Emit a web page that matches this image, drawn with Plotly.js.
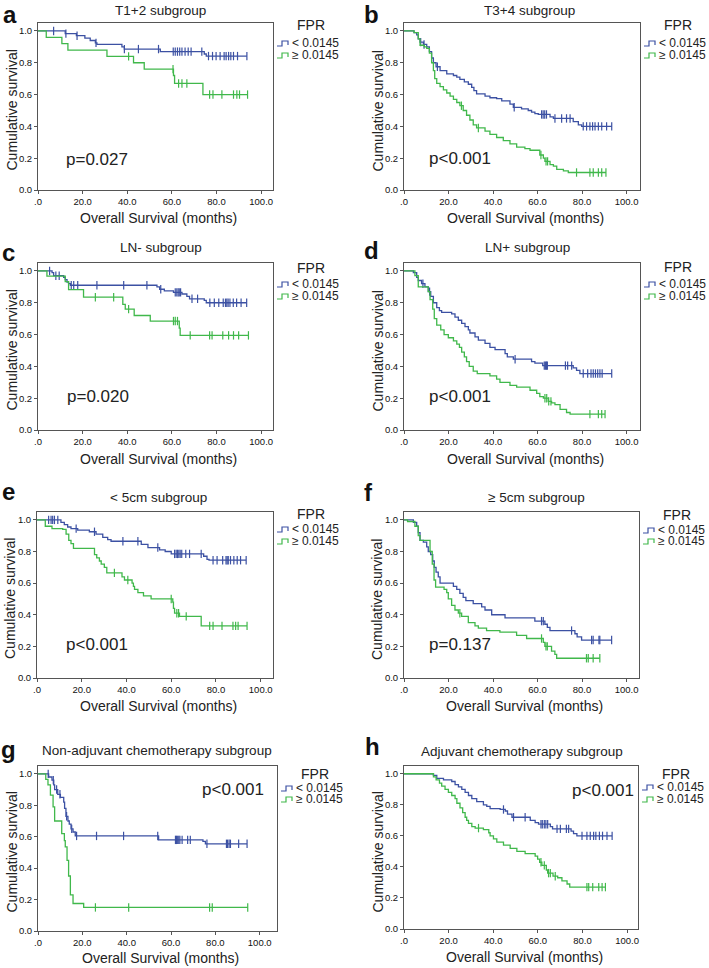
<!DOCTYPE html>
<html><head><meta charset="utf-8">
<script src="https://cdn.plot.ly/plotly-3.0.1.min.js"></script>
<style>html,body{margin:0;padding:0;background:#fff}</style>
</head><body><div id="chart" style="width:709px;height:968px"></div>
<script>
// ---------- DATA (months, survival) ----------
const GROUPS = ['< 0.0145', '≥ 0.0145'];
const X_TICKS = [0, 20, 40, 60, 80, 100];
const X_TICKTEXT = ['.0', '20.0', '40.0', '60.0', '80.0', '100.0'];
const Y_TICKS = [0, 0.2, 0.4, 0.6, 0.8, 1.0];
const Y_TICKTEXT = ['0.0', '0.2', '0.4', '0.6', '0.8', '1.0'];

// a: T1+2
const A_LO_T = [12.2, 17.2, 21, 23.4, 25.7, 26.4, 37.6, 38.7, 54.8, 74.5, 75.4];
const A_LO_S = [0.983, 0.97, 0.955, 0.94, 0.925, 0.915, 0.9, 0.886, 0.87, 0.855, 0.842];
const A_LO_C = [7, 12.5, 17.5, 26, 38.7, 45, 54, 60.6, 61.5, 62.5, 63.5, 64.5, 65.9, 67.3, 68.6, 73.4, 76.4, 78.2, 79.8, 81.6, 83.4, 84.3, 85.4, 86.4, 87.6, 89.4, 93.6];
const A_HI_T = [3.7, 10.7, 13.4, 30.9, 42.8, 47.6, 60.7, 61.2, 73.9];
const A_HI_S = [0.96, 0.92, 0.88, 0.84, 0.80, 0.76, 0.72, 0.67, 0.60];
const A_HI_C = [40.6, 60.5, 63, 64.5, 66.7, 76.9, 78.4, 82.4, 87.6, 89.1, 90.3, 93.9];

// b: T3+4
const B_LO_T = [4.5, 5.7, 6.4, 7.2, 8.7, 10.2, 11.4, 12.4, 13.2, 14.4, 16.2, 19.2, 22.2, 23.7, 25.1, 27.1, 28.9, 30.4, 31.4, 32.6, 36.4, 38.6, 41.6, 43.9, 47.6, 49.1, 52.8, 55.8, 57.3, 58.8, 60.3, 65.6, 67.1, 76, 78.3, 79.8];
const B_LO_S = [0.99, 0.975, 0.95, 0.93, 0.915, 0.9, 0.87, 0.83, 0.8, 0.775, 0.75, 0.73, 0.72, 0.71, 0.695, 0.68, 0.665, 0.645, 0.625, 0.605, 0.59, 0.58, 0.575, 0.56, 0.54, 0.52, 0.51, 0.5, 0.49, 0.48, 0.475, 0.46, 0.45, 0.43, 0.41, 0.40];
const B_LO_C = [7.5, 9, 15, 49.5, 61.8, 62.5, 63.2, 64, 67.8, 70.8, 73, 74.6, 80.5, 82, 83.5, 84.7, 85.8, 87.3, 88.8, 91, 93.3];
const B_HI_T = [4.5, 6.4, 7.2, 9.1, 10.2, 11.4, 12.4, 13.2, 13.8, 14.7, 16.2, 17.7, 19.2, 20.7, 22.2, 23.7, 25.1, 26.6, 28.1, 29.6, 31.1, 32.6, 36.4, 38.6, 41.6, 44.6, 47.6, 50.6, 54.3, 56.6, 61, 62.6, 63.3, 65.6, 67.1, 68.6, 71.6, 73.8];
const B_HI_S = [0.99, 0.95, 0.91, 0.9, 0.89, 0.86, 0.8, 0.75, 0.7, 0.67, 0.65, 0.63, 0.61, 0.59, 0.57, 0.55, 0.53, 0.5, 0.47, 0.44, 0.41, 0.39, 0.37, 0.35, 0.33, 0.31, 0.29, 0.27, 0.26, 0.25, 0.22, 0.2, 0.18, 0.16, 0.15, 0.13, 0.12, 0.11];
const B_HI_C = [25.8, 33.4, 61.5, 63.8, 64.5, 77.5, 83.5, 85, 87.3, 88.8, 90.7];

// c: LN-
const C_LO_T = [6.3, 7, 11.5, 12.2, 13, 13.7, 14.5, 53.3, 54.5, 56.6, 60.7, 64.5, 66.7, 67.9, 74.5, 75.4];
const C_LO_S = [0.99, 0.97, 0.96, 0.945, 0.93, 0.92, 0.91, 0.9, 0.885, 0.875, 0.865, 0.855, 0.84, 0.825, 0.815, 0.8];
const C_LO_C = [5.2, 8, 9.5, 14.9, 16, 17.8, 26.4, 38.4, 48.8, 55, 61.5, 62.2, 62.8, 63.3, 63.9, 69, 71.5, 77, 79, 81, 83, 84, 84.6, 85.2, 86, 87.5, 89, 91, 93.5];
const C_HI_T = [4, 12.2, 13.7, 20.4, 38, 39.1, 43.1, 50.3, 63.3, 63.7];
const C_HI_S = [0.967, 0.933, 0.883, 0.835, 0.79, 0.76, 0.72, 0.685, 0.64, 0.595];
const C_HI_C = [25.7, 33.9, 40.6, 60.7, 61.5, 62.5, 68.2, 76.9, 78, 82.8, 85.4, 87.6, 89.9, 94.3];

// d: LN+
const D_LO_T = [4.2, 5.7, 6.4, 7.9, 9.4, 10.9, 12, 13.2, 14.7, 15.9, 16.9, 21.4, 22.9, 24.4, 25.9, 27.4, 28.9, 29.6, 31.9, 33.4, 36.4, 38.6, 40.9, 45.4, 46.4, 49.1, 57.3, 58.8, 62.3, 76, 77.5, 79];
const D_LO_S = [0.99, 0.96, 0.94, 0.92, 0.9, 0.87, 0.84, 0.8, 0.77, 0.75, 0.74, 0.73, 0.71, 0.69, 0.67, 0.65, 0.63, 0.61, 0.585, 0.565, 0.545, 0.52, 0.505, 0.48, 0.46, 0.445, 0.43, 0.42, 0.405, 0.39, 0.375, 0.355];
const D_LO_C = [8.5, 11.5, 49.9, 63, 63.5, 64, 64.4, 72.5, 73.5, 75.3, 80.5, 82.5, 84, 85, 86, 87, 88, 89, 93.3];
const D_HI_T = [4.9, 6.4, 10.9, 11.7, 12.9, 13.6, 14.7, 16.5, 18, 19.9, 22.2, 23.7, 24.9, 25.9, 27.1, 28.1, 29.3, 31.1, 32.9, 38.6, 41.6, 43.1, 47.6, 50.6, 56.6, 59.6, 61, 62.6, 64.8, 66.3, 67.8, 70.1, 73, 74.6];
const D_HI_S = [0.97, 0.9, 0.87, 0.82, 0.76, 0.7, 0.66, 0.63, 0.6, 0.58, 0.56, 0.54, 0.52, 0.49, 0.46, 0.43, 0.4, 0.37, 0.355, 0.34, 0.32, 0.3, 0.28, 0.27, 0.25, 0.23, 0.21, 0.2, 0.18, 0.17, 0.16, 0.13, 0.11, 0.1];
const D_HI_C = [63.3, 64.1, 65, 66, 83.5, 87.3, 88.8, 90.3];

// e: < 5cm
const E_LO_T = [10.7, 12.2, 13.7, 15.2, 18.2, 23.4, 26.4, 29.4, 31.6, 33.1, 46.6, 49.6, 54.8, 57.3, 60, 74.5, 76, 76.9];
const E_LO_S = [0.985, 0.97, 0.955, 0.945, 0.935, 0.925, 0.91, 0.89, 0.875, 0.865, 0.845, 0.825, 0.81, 0.8, 0.785, 0.77, 0.75, 0.745];
const E_LO_C = [5.2, 6.3, 7, 7.8, 9.3, 17.5, 25.7, 38.4, 45.1, 54, 61.5, 62.2, 62.8, 63.4, 64, 64.7, 66.5, 68.2, 73.4, 78.7, 80.5, 83, 84.5, 85, 85.5, 86.5, 88, 89.5, 91, 93.5];
const E_HI_T = [3.7, 6.7, 11.5, 13, 14.2, 15.2, 16.3, 25.7, 26.7, 27.9, 28.7, 30.1, 31.2, 38, 39.1, 42.5, 43.1, 43.6, 45.1, 47.6, 51, 60.7, 61, 61.5, 63.7, 73.4];
const E_HI_S = [0.96, 0.945, 0.94, 0.91, 0.87, 0.85, 0.82, 0.78, 0.76, 0.74, 0.72, 0.7, 0.665, 0.64, 0.62, 0.6, 0.58, 0.56, 0.54, 0.52, 0.5, 0.48, 0.44, 0.41, 0.39, 0.33];
const E_HI_C = [34.6, 40.6, 60, 62.5, 63.3, 66.7, 77.2, 78.7, 82.7, 87.6, 88.8, 89.9, 93.9];

// f: ≥ 5cm
const F_LO_T = [4.2, 5.7, 6.4, 7.2, 8.7, 10.2, 10.9, 12, 12.9, 13.6, 14.4, 15.4, 16.2, 22.2, 23.7, 25.1, 26.6, 27.8, 31.1, 34.9, 36.4, 39.4, 45.4, 58.8, 63.3, 64.4, 65.6, 76.8, 77.8, 79.8];
const F_LO_S = [0.985, 0.96, 0.92, 0.87, 0.86, 0.83, 0.8, 0.78, 0.74, 0.7, 0.67, 0.64, 0.6, 0.58, 0.56, 0.535, 0.51, 0.49, 0.47, 0.45, 0.43, 0.4, 0.38, 0.36, 0.34, 0.32, 0.3, 0.28, 0.26, 0.24];
const F_LO_C = [61.8, 62.6, 75.3, 84.3, 85, 87.6, 88, 93.3];
const F_HI_T = [1.6, 4.9, 6.4, 7.2, 11.7, 12.7, 13.5, 14.2, 18, 19.2, 19.9, 21.4, 22.9, 24.4, 25.9, 28.9, 31.9, 33.4, 37.1, 43.1, 50.6, 55.1, 62.6, 63.3, 66.3, 67.8, 68.6];
const F_HI_S = [0.99, 0.96, 0.9, 0.87, 0.8, 0.72, 0.62, 0.575, 0.56, 0.54, 0.5, 0.46, 0.43, 0.41, 0.39, 0.35, 0.33, 0.315, 0.3, 0.29, 0.27, 0.25, 0.225, 0.2, 0.17, 0.15, 0.125];
const F_HI_C = [25.1, 61.8, 63.8, 64.4, 82, 82.8, 85, 88];

// g: Non-adjuvant chemotherapy
const G_LO_T = [4.8, 6.3, 7.1, 7.5, 8.9, 10.1, 11.6, 12, 12.6, 13.5, 14.1, 14.9, 15.8, 16.8, 54.4, 74.4, 75.5];
const G_LO_S = [0.98, 0.96, 0.93, 0.9, 0.87, 0.85, 0.82, 0.78, 0.73, 0.7, 0.68, 0.65, 0.63, 0.605, 0.58, 0.57, 0.555];
const G_LO_C = [4.6, 6.9, 8.4, 9.9, 12.9, 15.2, 17.4, 26.4, 38.6, 54, 62, 62.5, 63, 63.5, 64, 65, 67.5, 68.7, 76.2, 85, 85.5, 86.2, 86.8, 90.5, 94.3];
const G_HI_T = [3.5, 4.5, 5.6, 6.8, 7.5, 10.7, 11.9, 12.3, 13.1, 13.8, 14.6, 15.8, 20.6];
const G_HI_S = [0.965, 0.93, 0.865, 0.79, 0.7, 0.62, 0.575, 0.535, 0.45, 0.35, 0.23, 0.175, 0.15];
const G_HI_C = [25.9, 40.9, 77.4, 78.6, 94.6];

// h: Adjuvant chemotherapy
const H_LO_T = [13.2, 14.7, 17.7, 21.4, 22.9, 24.4, 25.9, 27.4, 28.9, 30.4, 32.6, 35.6, 37.1, 38.6, 43.1, 45.4, 46.4, 48.4, 56.6, 58.8, 60.3, 65.6, 66.6, 74.9, 76, 77.5];
const H_LO_S = [0.99, 0.97, 0.96, 0.95, 0.93, 0.915, 0.9, 0.88, 0.86, 0.84, 0.82, 0.8, 0.79, 0.775, 0.77, 0.76, 0.74, 0.72, 0.7, 0.685, 0.675, 0.66, 0.645, 0.63, 0.615, 0.6];
const H_LO_C = [44.6, 49.1, 54.3, 61.4, 62, 62.9, 63.6, 64.4, 68.6, 70.1, 72.8, 73.8, 79.8, 82, 83.5, 85, 86, 87.6, 89, 91, 93.3];
const H_HI_T = [13.2, 14.4, 15.9, 16.9, 18.4, 19.9, 21.4, 22.9, 23.7, 25.1, 26.3, 27.4, 28.1, 28.9, 30.4, 31.9, 35.6, 38, 38.6, 40.1, 41.6, 44.6, 47.6, 50.6, 54.3, 58.8, 59.9, 60.8, 61.8, 63.8, 64.4, 66.8, 68.9, 70.8, 73.1, 74.3];
const H_HI_S = [0.98, 0.96, 0.94, 0.92, 0.9, 0.88, 0.86, 0.84, 0.81, 0.78, 0.75, 0.72, 0.7, 0.68, 0.66, 0.65, 0.64, 0.62, 0.6, 0.58, 0.56, 0.54, 0.52, 0.5, 0.485, 0.47, 0.45, 0.43, 0.41, 0.38, 0.36, 0.34, 0.33, 0.31, 0.29, 0.27];
const H_HI_C = [33.4, 61.4, 62.9, 64.8, 65.6, 67.8, 82, 82.8, 84.6, 87.3, 88.8, 90.3];

const TITLES = ['T1+2 subgroup', 'T3+4 subgroup', 'LN- subgroup', 'LN+ subgroup', '< 5cm subgroup', '≥ 5cm subgroup', 'Non-adjuvant chemotherapy subgroup', 'Adjuvant chemotherapy subgroup'];
const LETTERS = ['a', 'b', 'c', 'd', 'e', 'f', 'g', 'h'];
const PVALUES = ['p=0.027', 'p<0.001', 'p=0.020', 'p<0.001', 'p<0.001', 'p=0.137', 'p<0.001', 'p<0.001'];

// ---------- LAYOUT CONFIG ----------
const W = 709, H = 968;
const BLUE = '#3c51a3', GREEN = '#40b84b', FRAME = '#555555', TXT = '#222222';
const FONT = 'Arial, "Liberation Sans", Helvetica, sans-serif';
const px = x => x / W, py = y => 1 - y / H;

const panels = [
  {lo: [A_LO_T, A_LO_S, A_LO_C], hi: [A_HI_T, A_HI_S, A_HI_C], box: [38, 273, 23, 190], xmax: 105.3, pPos: [11.5, 0.19], title: [160, 10], letter: [10, 0, 'top'], leg: [25, 43, 55], xt: 218},
  {lo: [B_LO_T, B_LO_S, B_LO_C], hi: [B_HI_T, B_HI_S, B_HI_C], box: [404, 640, 23, 190], xmax: 106, pPos: [10.2, 0.196], title: [529, 10], letter: [371, 0, 'top'], leg: [25, 43, 55], xt: 218},
  {lo: [C_LO_T, C_LO_S, C_LO_C], hi: [C_HI_T, C_HI_S, C_HI_C], box: [38, 273, 263, 430], xmax: 105.3, pPos: [12.2, 0.213], title: [161, 247], letter: [8, 252, 'middle'], leg: [268, 284, 296], xt: 459},
  {lo: [D_LO_T, D_LO_S, D_LO_C], hi: [D_HI_T, D_HI_S, D_HI_C], box: [404, 640, 263, 430], xmax: 106, pPos: [10.2, 0.208], title: [527, 247], letter: [371, 251, 'middle'], leg: [267, 284, 296], xt: 459},
  {lo: [E_LO_T, E_LO_S, E_LO_C], hi: [E_HI_T, E_HI_S, E_HI_C], box: [37, 273, 512, 678], xmax: 105.5, pPos: [12.2, 0.21], title: [158, 497], letter: [8, 491, 'middle'], leg: [514, 529, 541], xt: 706},
  {lo: [F_LO_T, F_LO_S, F_LO_C], hi: [F_HI_T, F_HI_S, F_HI_C], box: [404, 639, 512, 678], xmax: 105.6, pPos: [10.2, 0.213], title: [536, 497], letter: [368, 492, 'middle'], leg: [515, 530, 541], xt: 706},
  {lo: [G_LO_T, G_LO_S, G_LO_C], hi: [G_HI_T, G_HI_S, G_HI_C], box: [38, 277, 766, 931], xmax: 107.8, pPos: [72.9, 0.9], title: [157, 750], letter: [8, 749, 'middle'], leg: [774, 788, 799], xt: 958},
  {lo: [H_LO_T, H_LO_S, H_LO_C], hi: [H_HI_T, H_HI_S, H_HI_C], box: [404, 638, 766, 929], xmax: 104.9, pPos: [74.5, 0.895], title: [522, 751], letter: [372, 746, 'middle'], leg: [774, 787, 799], xt: 957}
];

function survAt(T, S, t) {
  let s = 1;
  for (let i = 0; i < T.length; i++) { if (T[i] <= t) s = S[i]; }
  return s;
}

const traces = [];
const annotations = [];
const shapes = [];
const layout = {
  width: W, height: H,
  margin: {l: 0, r: 0, t: 0, b: 0},
  paper_bgcolor: '#ffffff', plot_bgcolor: '#ffffff',
  showlegend: false,
  font: {family: FONT, color: TXT}
};

panels.forEach((p, i) => {
  const n = i + 1;
  const xa = n === 1 ? 'x' : 'x' + n;
  const ya = n === 1 ? 'y' : 'y' + n;
  const [x0, x1, y0, y1] = p.box;
  const axCommon = {
    showline: true, mirror: true, linecolor: FRAME, linewidth: 1,
    ticks: 'outside', ticklen: 3, tickcolor: FRAME, tickwidth: 1,
    showgrid: false, zeroline: false, fixedrange: true,
    tickfont: {family: FONT, size: 9.5, color: '#111'}
  };
  layout['xaxis' + (n === 1 ? '' : n)] = Object.assign({}, axCommon, {
    domain: [px(x0), px(x1)], range: [0, p.xmax], anchor: ya,
    tickvals: X_TICKS, ticktext: X_TICKTEXT
  });
  layout['yaxis' + (n === 1 ? '' : n)] = Object.assign({}, axCommon, {
    domain: [py(y1), py(y0)], range: [0, 1.05], anchor: xa,
    tickvals: Y_TICKS, ticktext: Y_TICKTEXT
  });

  [[p.lo, BLUE], [p.hi, GREEN]].forEach(([g, col], k) => {
    const [T, S, C] = g;
    const lastT = Math.max(T[T.length - 1], C.length ? C[C.length - 1] : 0);
    const xs = [0].concat(T, [lastT]);
    const ys = [1].concat(S, [S[S.length - 1]]);
    traces.push({x: xs, y: ys, xaxis: xa, yaxis: ya, mode: 'lines', name: GROUPS[k],
      line: {shape: 'hv', color: col, width: 1.3}, hoverinfo: 'skip'});
    traces.push({x: C, y: C.map(t => survAt(T, S, t)), xaxis: xa, yaxis: ya, mode: 'markers', name: GROUPS[k] + ' censored',
      marker: {symbol: 'line-ns-open', size: 6, color: col, line: {color: col, width: 1.2}}, hoverinfo: 'skip'});
  });

  // panel title
  annotations.push({xref: 'paper', yref: 'paper', x: px(p.title[0]), y: py(p.title[1]), xanchor: 'center', yanchor: 'middle',
    text: TITLES[i], showarrow: false, font: {family: FONT, size: 13.5, color: TXT}});
  // letter
  annotations.push({xref: 'paper', yref: 'paper', x: px(p.letter[0]), y: py(p.letter[1]), xanchor: 'center', yanchor: p.letter[2],
    text: '<b>' + LETTERS[i] + '</b>', showarrow: false, borderpad: 0, font: {family: FONT, size: 24, color: '#111'}});
  // axis titles
  annotations.push({xref: 'paper', yref: 'paper', x: px((x0 + x1) / 2 + 3), y: py(p.xt), xanchor: 'center', yanchor: 'middle',
    text: 'Overall Survival (months)', showarrow: false, borderpad: 0, font: {family: FONT, size: 14, color: TXT}});
  annotations.push({xref: 'paper', yref: 'paper', x: px(x0 - 27), y: py((y0 + y1) / 2 + 4), xanchor: 'center', yanchor: 'middle',
    text: 'Cumulative survival', textangle: -90, showarrow: false, font: {family: FONT, size: 14, color: TXT}});
  // p-value
  annotations.push({xref: xa, yref: ya, x: p.pPos[0], y: p.pPos[1], xanchor: 'left', yanchor: 'middle',
    text: PVALUES[i], showarrow: false, font: {family: FONT, size: 17, color: TXT}});
  // legend
  const lx = x1 + 4;
  annotations.push({xref: 'paper', yref: 'paper', x: px(x1 + 22), y: py(p.leg[0]), xanchor: 'left', yanchor: 'middle',
    text: 'FPR', showarrow: false, font: {family: FONT, size: 14, color: TXT}});
  [[p.leg[1], BLUE], [p.leg[2], GREEN]].forEach(([yy, col], k) => {
    annotations.push({xref: 'paper', yref: 'paper', x: px(x1 + 18), y: py(yy), xanchor: 'left', yanchor: 'middle',
      text: GROUPS[k], showarrow: false, borderpad: 0, font: {family: FONT, size: 12, color: TXT}});
    const yb = yy + 3, yt = yy - 2;
    shapes.push({type: 'path', xref: 'paper', yref: 'paper',
      path: `M ${px(lx)} ${py(yb)} L ${px(lx + 5)} ${py(yb)} L ${px(lx + 5)} ${py(yt)} L ${px(lx + 11)} ${py(yt)} L ${px(lx + 11)} ${py(yb - 1)}`,
      line: {color: col, width: 1.2}});
  });
});

layout.annotations = annotations;
layout.shapes = shapes;

Plotly.newPlot('chart', traces, layout, {displayModeBar: false, staticPlot: true});
</script>
</body></html>
